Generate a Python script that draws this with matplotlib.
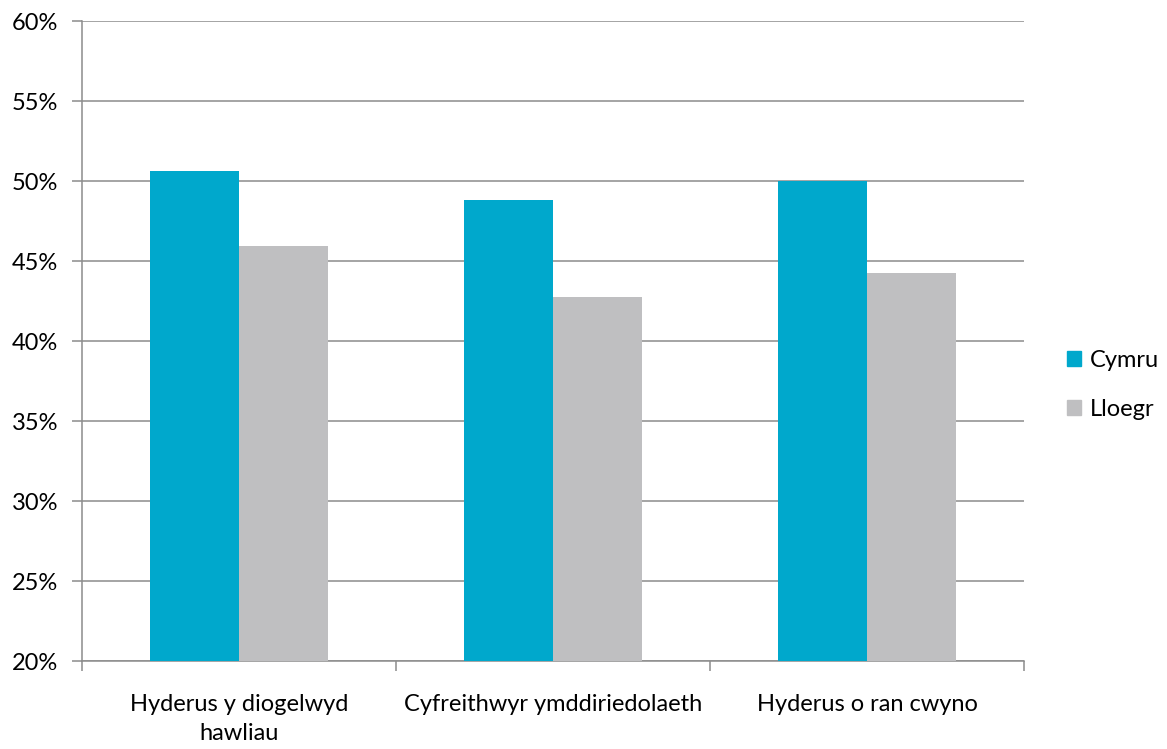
import matplotlib
matplotlib.use("Agg")
import matplotlib.pyplot as plt
import numpy as np
from matplotlib.patches import Patch

categories = ["Hyderus y diogelwyd\nhawliau", "Cyfreithwyr ymddiriedolaeth", "Hyderus o ran cwyno"]
series_names = ["Cymru", "Lloegr"]
cymru = [50.6, 48.8, 50.0]
lloegr = [45.95, 42.75, 44.25]
yticks = [20, 25, 30, 35, 40, 45, 50, 55, 60]
ytick_labels = ["20%", "25%", "30%", "35%", "40%", "45%", "50%", "55%", "60%"]
colors = ["#00A8CC", "#BFBFC1"]

plt.rcParams['font.family'] = ['Lato', 'DejaVu Sans']
fs = 17

fig = plt.figure(figsize=(11.67, 7.49), dpi=100)
ax = fig.add_axes([82/1167, 1-661/749, (1024-82)/1167, (661-21)/749])

x = np.arange(len(categories))
w = 0.285
ax.bar(x - w/2, np.array(cymru) - 20, w, bottom=20, color=colors[0], zorder=3)
ax.bar(x + w/2, np.array(lloegr) - 20, w, bottom=20, color=colors[1], zorder=3)

ax.set_xlim(-0.5, len(categories) - 0.5)
ax.set_ylim(20, 60)
ax.set_yticks(yticks)
ax.set_yticklabels(ytick_labels, fontsize=fs)
ax.yaxis.grid(True, color="#8C8C8C", linewidth=1.1, zorder=0)
ax.set_xticks(x)
ax.set_xticklabels(categories, fontsize=fs, linespacing=1.45)
ax.tick_params(axis='x', which='major', length=0, pad=24)
ax.set_xticks(np.arange(len(categories) + 1) - 0.5, minor=True)
ax.tick_params(axis='x', which='minor', length=7, color="#8C8C8C", width=1.1)
ax.tick_params(axis='y', length=7, color="#8C8C8C", width=1.1, pad=10)

for s in ['top', 'right']:
    ax.spines[s].set_visible(False)
for s in ['left', 'bottom']:
    ax.spines[s].set_color("#8C8C8C")
    ax.spines[s].set_linewidth(1.1)

handles = [Patch(color=c, label=n) for c, n in zip(colors, series_names)]
fig.legend(handles=handles, loc='center left', bbox_to_anchor=(1067/1167, 1-385/749),
           frameon=False, fontsize=fs, handlelength=0.6, handleheight=0.6,
           handletextpad=0.35, labelspacing=1.2, borderpad=0, borderaxespad=0)

fig.savefig("out.png", dpi=100)
